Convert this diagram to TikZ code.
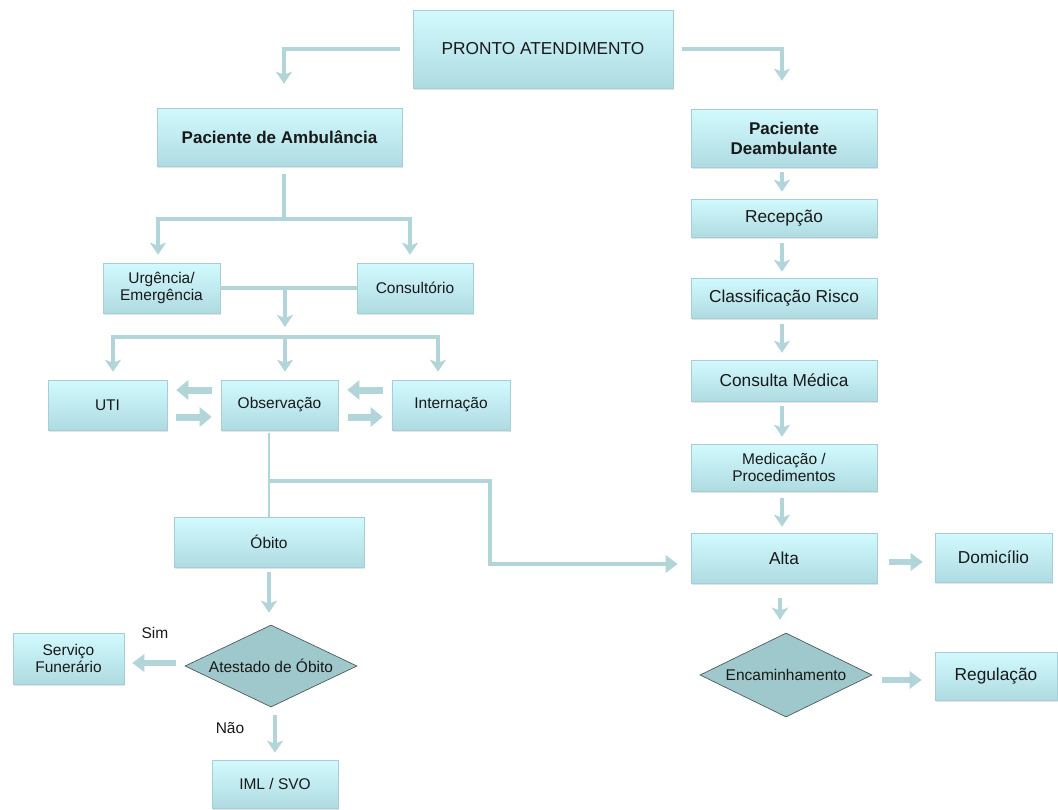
\documentclass[tikz,border=0pt]{standalone}
\usepackage{fontspec}
\setmainfont{Liberation Sans}
\usetikzlibrary{arrows.meta,shapes.geometric,shadows,calc}

\definecolor{boxtop}{RGB}{210,250,254}
\definecolor{boxbot}{RGB}{174,219,225}
\definecolor{boxedge}{RGB}{166,206,212}
\definecolor{link}{RGB}{178,213,218}
\definecolor{decfill}{RGB}{158,200,203}
\definecolor{decedge}{RGB}{80,90,92}
\definecolor{ink}{RGB}{25,25,25}

\tikzset{
  box/.style={rectangle, draw=boxedge, line width=0.6pt, top color=boxtop, bottom color=boxbot,
    inner sep=0pt, align=center, text=ink, font=\fontsize{17.3}{20}\selectfont,
    drop shadow={shadow xshift=1.2pt, shadow yshift=-1.6pt, opacity=0.22}},
  small/.style={font=\fontsize{15.5}{17}\selectfont},
  heading/.style={font=\bfseries\fontsize{17}{20}\selectfont},
  decision/.style={diamond, aspect=2.1, draw=decedge, line width=0.7pt, fill=decfill, inner sep=0pt,
    text=ink, font=\fontsize{15.5}{17}\selectfont},
  conn/.style={draw=link, line width=4.5pt},
  thinconn/.style={draw=link, line width=2.5pt},
  darrow/.style={conn, -{Stealth[length=12pt,width=16pt,inset=3pt]}},
  harrow/.style={conn, -{Triangle[length=12pt,width=17pt]}},
  barrow/.style={draw=link, line width=7pt, -{Triangle[length=12pt,width=19pt]}},
  lbl/.style={text=ink, font=\fontsize{15.5}{17}\selectfont, inner sep=0pt},
}

\begin{document}
\begin{tikzpicture}[x=1pt,y=-1pt]
\useasboundingbox[fill=white] (0,0) rectangle (1058,809);

% ---------- boxes ----------
\node[box, minimum width=260pt, minimum height=78pt] (pronto) at (543,49) {PRONTO ATENDIMENTO};

\node[box, heading, minimum width=245pt, minimum height=58pt] (pamb) at (279.5,137) {Paciente de Ambulância};
\node[box, heading, minimum width=186pt, minimum height=58pt] (pdeamb) at (784,138) {Paciente\\Deambulante};

% right column
\node[box, minimum width=186pt, minimum height=38pt] (recep) at (784,218) {Recepção};
\node[box, minimum width=186pt, minimum height=40pt] (classif) at (784,298) {Classificação Risco};
\node[box, minimum width=186pt, minimum height=41pt] (consulta) at (784,380.5) {Consulta Médica};
\node[box, small, minimum width=186pt, minimum height=47pt] (medic) at (784,467.5) {Medicação /\\Procedimentos};
\node[box, minimum width=186pt, minimum height=50pt] (alta) at (784,558) {Alta};
\node[box, minimum width=117pt, minimum height=49pt] (domic) at (993.5,557.5) {Domicílio};
\node[decision, minimum width=172pt, minimum height=84pt] (encam) at (786,675) {Encaminhamento};
\node[box, minimum width=122pt, minimum height=48pt] (regul) at (996,676) {Regulação};

% left side
\node[box, small, minimum width=117pt, minimum height=50pt] (urg) at (161.5,288) {Urgência/\\Emergência};
\node[box, small, minimum width=116pt, minimum height=50pt] (consult) at (415,288) {Consultório};
\node[box, small, minimum width=119pt, minimum height=50pt] (uti) at (107.5,405) {UTI};
\node[box, small, minimum width=117pt, minimum height=50pt] (obs) at (279.5,405) {Observação};
\node[box, small, minimum width=118pt, minimum height=50pt] (intern) at (451,405) {Internação};
\node[box, small, minimum width=190pt, minimum height=50pt] (obito) at (269,542) {Óbito};
\node[decision, minimum width=172pt, minimum height=82pt] (atest) at (271,666) {Atestado de Óbito};
\node[box, small, minimum width=111pt, minimum height=51pt] (funer) at (68.5,658.5) {Serviço\\Funerário};
\node[box, small, minimum width=126pt, minimum height=48pt] (iml) at (275,784) {IML / SVO};

\node[lbl] (sim) at (155,633) {Sim};
\node[lbl] (nao) at (230,728) {Não};

% ---------- connectors ----------
% from the entry point to both patient types
\draw[darrow, shorten <=13pt, shorten >=24pt] (pronto.west) -| ([xshift=4.5pt]pamb.north);
\draw[darrow, shorten <=9pt, shorten >=28pt] (pronto.east) -| ([xshift=-2pt]pdeamb.north);

% ambulance patient splits
\coordinate (j1) at (284,219);
\draw[conn, shorten <=8pt] ([xshift=4.5pt]pamb.south) -- (j1);
\draw[darrow, shorten >=8pt] (j1) -| ([xshift=-3.5pt]urg.north);
\draw[darrow, shorten >=8pt] (j1) -| ([xshift=-5pt]consult.north);

\draw[conn] (urg.east) -- (consult.west);
\coordinate (j2) at (285,288);
\coordinate (j3) at (285,337);
\draw[darrow, shorten >=10pt] (j2) -- (j3);
\draw[darrow, shorten >=8pt] (j3) -| ([xshift=5.5pt]uti.north);
\draw[darrow, shorten >=8pt] (j3) -- (j3 |- obs.north);
\draw[darrow, shorten >=8pt] (j3) -| ([xshift=-13pt]intern.north);

% transfers between UTI, Observação and Internação
\draw[barrow, shorten <=9pt, shorten >=9pt] ([yshift=15pt]obs.west) -- ([yshift=15pt]uti.east);
\draw[barrow, shorten <=9pt, shorten >=9pt] ([yshift=-12pt]uti.east) -- ([yshift=-12pt]obs.west);
\draw[barrow, shorten <=9pt, shorten >=9pt] ([yshift=15pt]intern.west) -- ([yshift=15pt]obs.east);
\draw[barrow, shorten <=10pt, shorten >=9pt] ([yshift=-12pt]obs.east) -- ([yshift=-12pt]intern.west);

% Observação to Óbito, and the branch to Alta
\draw[thinconn, shorten <=3pt] (obito.north |- obs.south) -- (obito.north);
\coordinate (j4) at (269,481);
\coordinate (bend) at (490,481);
\coordinate (altain) at ([yshift=-6pt]alta.west);
\draw[harrow, shorten >=13pt] (j4) -- (bend) -- (bend |- altain) -- (altain);

% walking patient column
\draw[darrow, shorten <=5pt, shorten >=7pt] ([xshift=-2pt]pdeamb.south) -- ([xshift=-2pt]recep.north);
\draw[darrow, shorten <=6pt, shorten >=6pt] ([xshift=-2pt]recep.south) -- ([xshift=-2pt]classif.north);
\draw[darrow, shorten <=6pt, shorten >=7pt] ([xshift=-2pt]classif.south) -- ([xshift=-2pt]consulta.north);
\draw[darrow, shorten <=5pt, shorten >=7pt] ([xshift=-2pt]consulta.south) -- ([xshift=-2pt]medic.north);
\draw[darrow, shorten <=7pt, shorten >=6pt] ([xshift=-2pt]medic.south) -- ([xshift=-2pt]alta.north);
\draw[darrow, shorten <=15pt, shorten >=13pt] ([xshift=-4pt]alta.south) -- ([xshift=-4pt]alta.south |- encam.north);
\draw[harrow, line width=6pt, shorten <=12pt, shorten >=12pt] ([yshift=-4pt]alta.east) -- ([yshift=-4pt]alta.east -| domic.west);
\draw[harrow, line width=6pt, shorten <=10pt, shorten >=13pt] ([yshift=-5pt]encam.east) -- ([yshift=-5pt]encam.east -| regul.west);

% death certificate decision
\draw[darrow, shorten <=5pt, shorten >=12pt] (obito.south) -- (obito.south |- atest.north);
\draw[harrow, line width=6pt, shorten <=9pt, shorten >=8pt] ([yshift=3pt]atest.west) -- ([yshift=3pt]atest.west -| funer.east);
\draw[darrow, shorten <=8pt, shorten >=7pt] ([xshift=4pt]atest.south) -- ([xshift=4pt]atest.south |- iml.north);
\end{tikzpicture}
\end{document}
